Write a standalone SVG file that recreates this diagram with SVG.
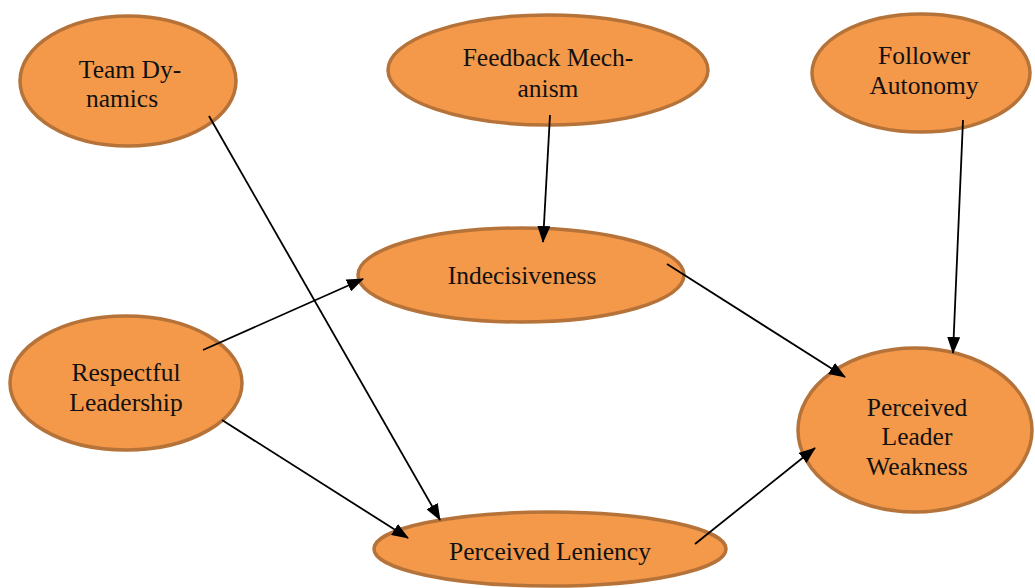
<svg xmlns="http://www.w3.org/2000/svg" width="1035" height="588" viewBox="0 0 1035 588">
<style>
.n ellipse{fill:#F4984A;stroke:#B5733A;stroke-width:3.5}
.n text{font-family:"Liberation Serif","Times New Roman",serif;font-size:25.5px;fill:#111;text-anchor:middle}
#edges line{stroke:#000;stroke-width:1.8;marker-end:url(#ah)}
</style>
<defs>
<marker id="ah" markerWidth="17" markerHeight="13" refX="16" refY="6.5" orient="auto" markerUnits="userSpaceOnUse">
<path d="M0,0 L17,6.5 L0,13 Z" fill="#000"/>
</marker>
</defs>
<rect width="1035" height="588" fill="#fff"/>
<g id="team" class="n"><ellipse cx="128" cy="81" rx="108" ry="65"/><text x="130" y="78">Team Dy-</text><text x="122" y="107">namics</text></g>
<g id="feedback" class="n"><ellipse cx="548" cy="70" rx="160" ry="55"/><text x="548" y="66">Feedback Mech-</text><text x="548" y="97">anism</text></g>
<g id="autonomy" class="n"><ellipse cx="921" cy="73" rx="109" ry="59"/><text x="924" y="64">Follower</text><text x="924" y="94">Autonomy</text></g>
<g id="indecisiveness" class="n"><ellipse cx="521" cy="275" rx="163" ry="47"/><text x="522" y="284">Indecisiveness</text></g>
<g id="respectful" class="n"><ellipse cx="126" cy="383" rx="116" ry="67"/><text x="126" y="381">Respectful</text><text x="126" y="411">Leadership</text></g>
<g id="weakness" class="n"><ellipse cx="915" cy="430" rx="117" ry="82"/><text x="917" y="416">Perceived</text><text x="917" y="445">Leader</text><text x="917" y="475">Weakness</text></g>
<g id="leniency" class="n"><ellipse cx="550" cy="549" rx="176" ry="37"/><text x="550" y="560">Perceived Leniency</text></g>
<g id="edges">
<line x1="209" y1="116" x2="440" y2="520"/>
<line x1="550" y1="115" x2="543" y2="242"/>
<line x1="963" y1="120" x2="953" y2="353"/>
<line x1="203" y1="350" x2="363" y2="279"/>
<line x1="222" y1="420" x2="408" y2="538"/>
<line x1="667" y1="264" x2="845" y2="377"/>
<line x1="695" y1="544" x2="815" y2="448"/>
</g>
</svg>
